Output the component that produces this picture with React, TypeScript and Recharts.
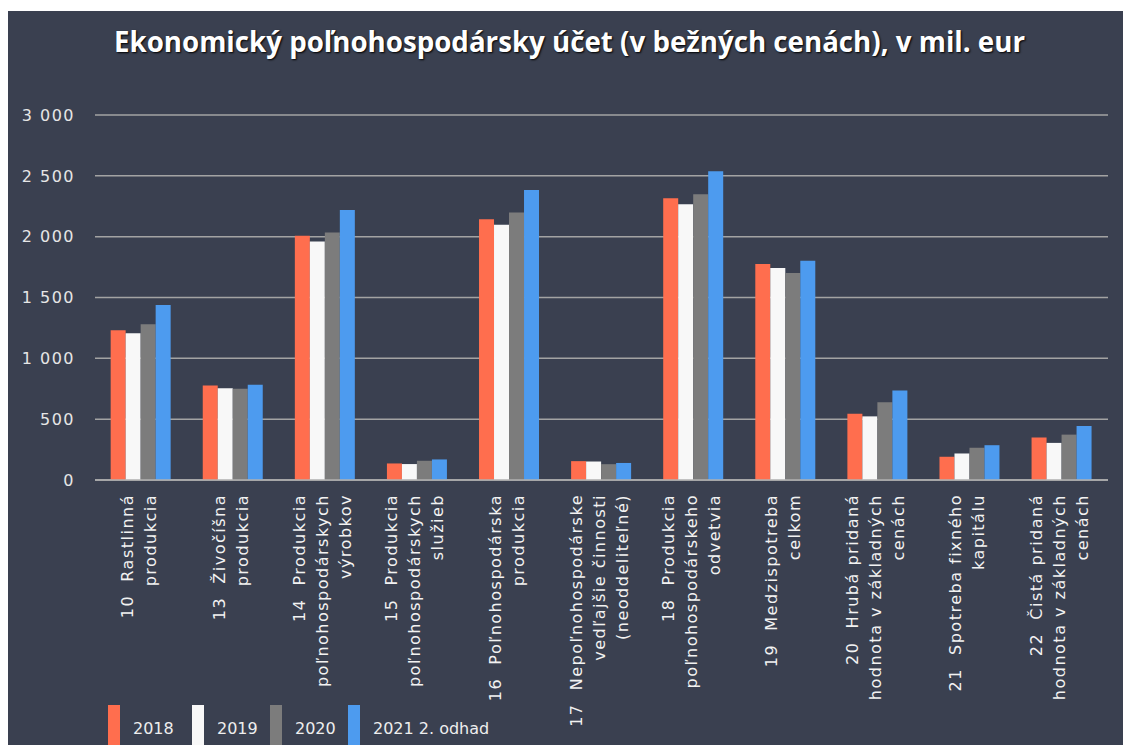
import React from 'react';
import { BarChart, Bar, XAxis, YAxis, CartesianGrid, Legend } from 'recharts';

// Category labels (lines split by \n)
const categories = [
  '10  Rastlinná\nprodukcia',
  '13  Živočíšna\nprodukcia',
  '14  Produkcia\npoľnohospodárskych\nvýrobkov',
  '15  Produkcia\npoľnohospodárskych\nslužieb',
  '16  Poľnohospodárska\nprodukcia',
  '17  Nepoľnohospodárske\nvedľajšie činnosti\n(neoddeliteľné)',
  '18  Produkcia\npoľnohospodárskeho\nodvetvia',
  '19  Medzispotreba\ncelkom',
  '20  Hrubá pridaná\nhodnota v základných\ncenách',
  '21  Spotreba fixného\nkapitálu',
  '22  Čistá pridaná\nhodnota v základných\ncenách',
];

// Values in mil. eur
const values2018 = [1231, 776, 2007, 136, 2143, 155, 2315, 1776, 545, 191, 349];
const values2019 = [1207, 754, 1961, 131, 2097, 152, 2266, 1743, 523, 218, 305];
const values2020 = [1280, 749, 2034, 158, 2198, 130, 2348, 1702, 640, 265, 373];
const values2021 = [1438, 782, 2220, 169, 2383, 140, 2538, 1803, 735, 286, 444];

const yTicks = [0, 500, 1000, 1500, 2000, 2500, 3000];

const series = [
  { key: 'y2018', name: '2018', color: '#ff6e4e' },
  { key: 'y2019', name: '2019', color: '#f8f8f8' },
  { key: 'y2020', name: '2020', color: '#7c7c7c' },
  { key: 'y2021', name: '2021 2. odhad', color: '#4d9bef' },
];

const data = categories.map((name, i) => ({
  name,
  y2018: values2018[i],
  y2019: values2019[i],
  y2020: values2020[i],
  y2021: values2021[i],
}));

const titleFont = '"Open Sans", sans-serif';
const bodyFont = '"DejaVu Sans", sans-serif';

const formatThousands = (v: number) => v.toLocaleString('en-US').replace(/,/g, ' ');

const CategoryTick = ({ x, y, payload }: any) => {
  const lines: string[] = String(payload.value).split('\n');
  const lineHeight = 23;
  return (
    <g transform={`translate(${x - 3},${y})`}>
      {lines.map((line, i) => (
        <text
          key={i}
          transform="rotate(-90)"
          x={-12}
          y={(i - (lines.length - 1) / 2) * lineHeight + 6}
          textAnchor="end"
          fill="#f2f2f2"
          fontSize={16}
          fontFamily={bodyFont}
          letterSpacing={1.5}
          style={{ whiteSpace: 'pre' }}
        >
          {line}
        </text>
      ))}
    </g>
  );
};

const itemWidths = [84, 78, 78, 170];

const renderLegend = () => (
  <div style={{ display: 'flex', height: 40, paddingLeft: 100, fontFamily: bodyFont, fontSize: 16, color: '#eeeeee' }}>
    {series.map((s, i) => (
      <div key={s.key} style={{ display: 'flex', width: itemWidths[i], height: 40 }}>
        <div style={{ width: 12, height: 40, background: s.color }} />
        <div style={{ marginLeft: 13, lineHeight: '16px', paddingTop: 16 }}>{s.name}</div>
      </div>
    ))}
  </div>
);

const App = () => {
  return (
    <div style={{ paddingTop: 3 }}>
      <div style={{ position: 'relative', width: 1123, height: 734, background: '#3a4050' }}>
        <div
          style={{
            position: 'absolute',
            top: 17,
            left: 0,
            width: 1123,
            textAlign: 'center',
            fontFamily: titleFont,
            fontWeight: 700,
            fontSize: 27.7,
            lineHeight: '27.7px',
            color: '#ffffff',
            textShadow: '1px 1px 2px #000',
          }}
        >
          Ekonomický poľnohospodársky účet (v bežných cenách), v mil. eur
        </div>
        <BarChart
          width={1123}
          height={734}
          data={data}
          margin={{ top: 104, right: 23, bottom: 0, left: 0 }}
          barCategoryGap="17%"
          barGap={0}
        >
          <CartesianGrid vertical={false} stroke="#a3a3a3" strokeWidth={1.5} />
          <XAxis
            dataKey="name"
            interval={0}
            height={225}
            tickLine={false}
            tickSize={0}
            axisLine={{ stroke: '#b0b0b0', strokeWidth: 1.5 }}
            tick={<CategoryTick />}
          />
          <YAxis
            width={87}
            domain={[0, 3000]}
            ticks={yTicks}
            tickFormatter={formatThousands}
            axisLine={false}
            tickLine={false}
            tickSize={0}
            tickMargin={20}
            tick={{ fill: '#e6e6e6', fontSize: 16, fontFamily: bodyFont, letterSpacing: 1.5 }}
          />
          <Legend verticalAlign="bottom" align="left" content={renderLegend} />
          {series.map((s) => (
            <Bar key={s.key} dataKey={s.key} name={s.name} fill={s.color} isAnimationActive={false} />
          ))}
        </BarChart>
      </div>
    </div>
  );
};

export default App;
